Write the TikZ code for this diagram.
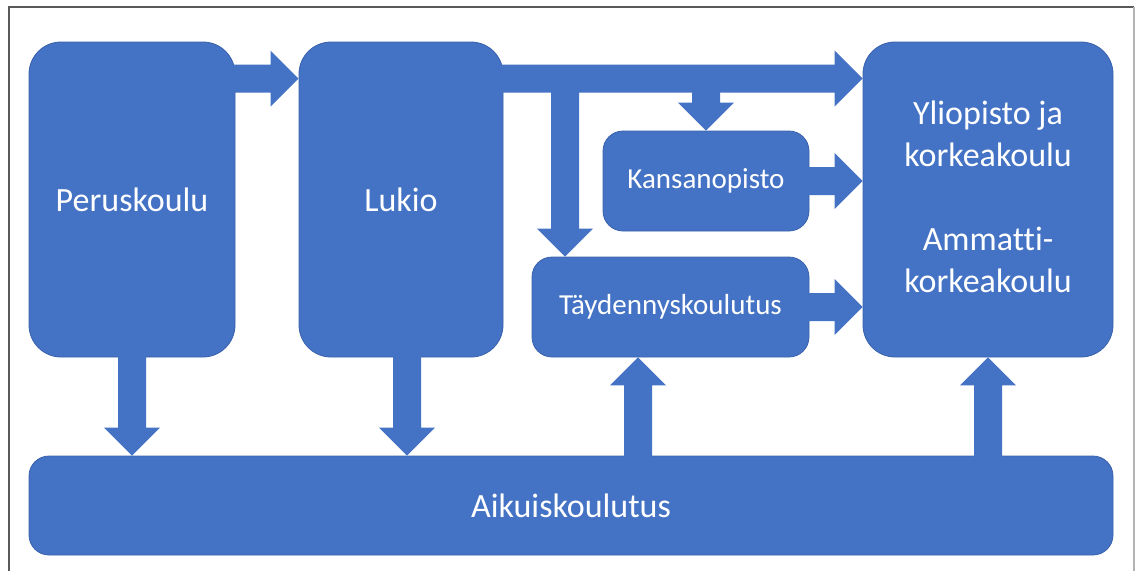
\documentclass[tikz,border=0pt]{standalone}
\usepackage{fontspec}
\setmainfont{Carlito}[Ligatures={NoCommon}]
\usetikzlibrary{calc}

\definecolor{boxblue}{HTML}{4472C4}
\definecolor{boxedge}{HTML}{3A62AC}
\definecolor{framedark}{HTML}{5A5A5A}
\definecolor{framelight}{HTML}{B4B4B4}

% Block arrows: shaft 28pt wide, head 56pt wide and 28pt long.
% Horizontal arrows take their height from the start point, their tip x from the end point;
% vertical arrows take their x from the start point, their tip y from the end point.
\newcommand{\blockright}[2]{%
  \fill[arrowfill] let \p1=#1, \p2=#2 in
    (\x1,{\y1+14pt}) -- ({\x2-28pt},{\y1+14pt}) -- ({\x2-28pt},{\y1+28pt})
    -- (\x2,\y1) -- ({\x2-28pt},{\y1-28pt}) -- ({\x2-28pt},{\y1-14pt})
    -- (\x1,{\y1-14pt}) -- cycle;}
\newcommand{\blockdown}[2]{%
  \fill[arrowfill] let \p1=#1, \p2=#2 in
    ({\x1-14pt},\y1) -- ({\x1-14pt},{\y2+28pt}) -- ({\x1-28pt},{\y2+28pt})
    -- (\x1,\y2) -- ({\x1+28pt},{\y2+28pt}) -- ({\x1+14pt},{\y2+28pt})
    -- ({\x1+14pt},\y1) -- cycle;}
\newcommand{\blockup}[2]{%
  \fill[arrowfill] let \p1=#1, \p2=#2 in
    ({\x1-14pt},\y1) -- ({\x1-14pt},{\y2-28pt}) -- ({\x1-28pt},{\y2-28pt})
    -- (\x1,\y2) -- ({\x1+28pt},{\y2-28pt}) -- ({\x1+14pt},{\y2-28pt})
    -- ({\x1+14pt},\y1) -- cycle;}

\tikzset{
  stagetext/.style={text=white, inner sep=0pt, align=center},
  stage/.style={stagetext, fill=boxblue, draw=boxedge, line width=0.8pt},
  bigfont/.style={font=\fontsize{34}{42}\selectfont},
  bigstage/.style={stage, rounded corners=32pt, bigfont},
  smallstage/.style={stage, rounded corners=20pt,
    font=\fontsize{29}{35}\selectfont},
  arrowfill/.style={fill=boxblue},
}

\begin{document}
\begin{tikzpicture}[x=1pt, y=-1pt]
  \useasboundingbox (0,0) rectangle (1136,571);
  \fill[white] (0,0) rectangle (1136,571);

  % outer frame
  \draw[framedark, line width=1.6pt] (9,571) -- (9,7) -- (1134,7);
  \draw[framelight, line width=1.2pt] (1134,7) -- (1134,571);

  % stages
  \node[bigstage, minimum width=206pt, minimum height=315pt] (peru) at (132,199.5) {Peruskoulu};
  \node[bigstage, minimum width=204pt, minimum height=315pt] (lukio) at (401,199.5) {Lukio};
  \node[bigstage, minimum width=250pt, minimum height=315pt] (yli) at (988,199.5) {};
  \node[stagetext, bigfont] (ylitext) at (988,197) {Yliopisto ja\\korkeakoulu\\[42pt]Ammatti-\\korkeakoulu};
  \node[smallstage, minimum width=206pt, minimum height=100pt] (kansa) at (706,181) {Kansanopisto};
  \node[smallstage, minimum width=277pt, minimum height=100pt] (tay) at (670.5,307) {Täydennyskoulutus};
  \node[bigstage, rounded corners=20pt, minimum width=1084pt, minimum height=99pt] (aik) at (571,505.5) {Aikuiskoulutus};

  % branch points on the Lukio arrow
  \coordinate (forkA) at (565,79);
  \coordinate (forkB) at (706,79);

  % downward branches
  \blockdown{(forkA)}{(tay.north)}
  \blockdown{(forkB)}{(kansa.north)}

  % rightward arrows
  \blockright{($(peru.north east)+(-2,37)$)}{(lukio.west)}
  \blockright{($(lukio.north east)+(-2,37)$)}{(yli.west)}
  \blockright{($(kansa.east)+(-2,0)$)}{(yli.west)}
  \blockright{($(tay.east)+(-2,0)$)}{(yli.west)}

  % into adult education
  \blockdown{($(peru.south)+(0,-2)$)}{(aik.north)}
  \blockdown{($(lukio.south)+(6,-2)$)}{(aik.north)}

  % out of adult education
  \blockup{($(aik.north)+(67,2)$)}{(tay.south)}
  \blockup{($(yli.south |- aik.north)+(0,2)$)}{(yli.south)}
\end{tikzpicture}
\end{document}
